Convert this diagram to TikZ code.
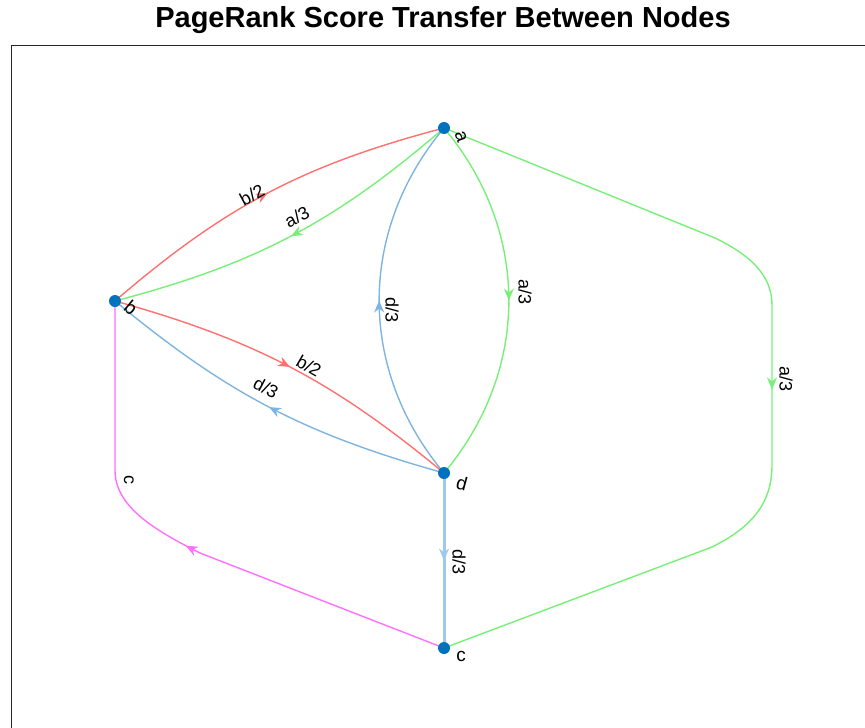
\documentclass[tikz,border=0pt]{standalone}
\usepackage{fontspec}
\setmainfont{Liberation Sans}
\usetikzlibrary{arrows.meta,decorations.markings,backgrounds}

\definecolor{mblue}{RGB}{0,114,189}
\definecolor{linkred}{RGB}{255,112,112}
\definecolor{linkgreen}{RGB}{120,240,120}
\definecolor{linkblue}{RGB}{125,180,224}
\definecolor{linklight}{RGB}{160,200,235}
\definecolor{linkmag}{RGB}{255,112,255}
\definecolor{axgray}{RGB}{38,38,38}

\tikzset{
    vert/.style={circle,fill=mblue,inner sep=0pt,minimum size=12pt},
    link/.style={line width=1.4pt,postaction={decorate},
        decoration={markings,
            mark=at position 0.5 with {\arrow{Stealth[length=12pt,width=10pt]}}}},
    elabel/.style={font=\fontsize{18}{18}\selectfont,inner sep=0pt},
    vlabel/.style={font=\fontsize{19}{19}\selectfont,inner sep=0pt}
}

\begin{document}
\begin{tikzpicture}[x=1pt,y=-1pt]
\useasboundingbox (0,0) rectangle (865,728);

% Title and axes
\node[font=\fontsize{29}{33}\selectfont\bfseries] (title) at (443,20)
    {PageRank Score Transfer Between Nodes};
\draw[axgray,line width=1.5pt] (11.5,728) -- (11.5,45.5) -- (865,45.5);

% Nodes
\node[vert] (a) at (444,128) {};
\node[vert] (b) at (115,301) {};
\node[vert] (d) at (444,473) {};
\node[vert] (c) at (444,648) {};

\node[vlabel,rotate=-70] at (461,137) {a};
\node[vlabel,rotate=-40] at (131,308) {b};
\node[vlabel,rotate=-15] at (462,483) {d};
\node[vlabel] at (461,656) {c};

% Edges
\begin{scope}[on background layer]
\draw[link,linkred] (b.center) to[bend left=13] (a.center);
\draw[link,linkgreen] (a.center) to[bend left=13] (b.center);
\draw[link,linkblue] (d.center) to[bend left=40] (a.center);
\draw[link,linkgreen] (a.center) to[bend left=40] (d.center);
\draw[link,linkred] (b.center) to[bend left=12] (d.center);
\draw[link,linkblue] (d.center) to[bend left=12] (b.center);
\draw[link,linklight,line width=3pt] (d.center) -- (c.center);
\draw[link,linkgreen] (a.center) -- (715,238)
    .. controls (750,255) and (772,275) .. (772,305) -- (772,465)
    .. controls (772,505) and (750,528) .. (712,547) -- (c.center);
\draw[link,linkmag] (c.center) -- (200,553)
    .. controls (150,528) and (115,505) .. (115,470) -- (b.center);
\end{scope}

% Edge labels
\node[elabel,rotate=28] at (252,195) {b/2};
\node[elabel,rotate=28] at (297,217) {a/3};
\node[elabel,rotate=-30] at (309,366) {b/2};
\node[elabel,rotate=-28] at (266,388) {d/3};
\node[elabel,rotate=-90] at (392,310) {d/3};
\node[elabel,rotate=-90] at (525,292) {a/3};
\node[elabel,rotate=-90] at (786,379) {a/3};
\node[elabel,rotate=-90] at (459,562) {d/3};
\node[elabel,rotate=-90] at (129,480) {c};

\end{tikzpicture}
\end{document}
